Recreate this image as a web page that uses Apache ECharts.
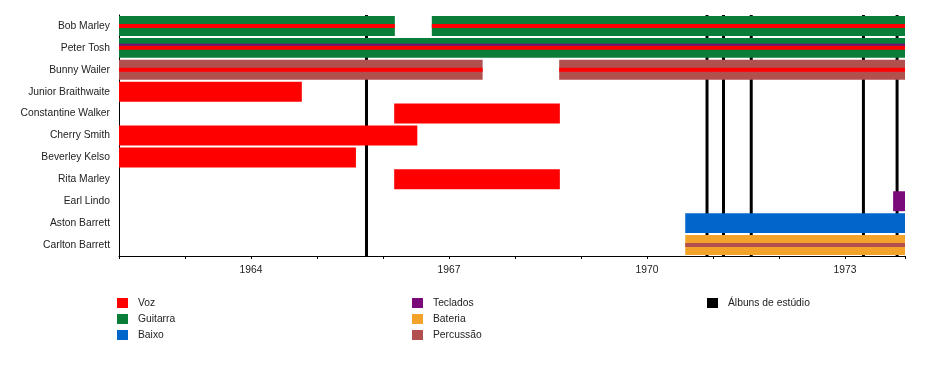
<!DOCTYPE html>
<html>
<head>
<meta charset="utf-8">
<script src="https://cdn.jsdelivr.net/npm/echarts@6/dist/echarts.min.js"></script>
<style>html,body{margin:0;padding:0;background:#fff}#c{width:929px;height:390px}</style>
</head>
<body>
<div id="c"></div>
<script>
// ---- data ----
const members = ['Bob Marley','Peter Tosh','Bunny Wailer','Junior Braithwaite','Constantine Walker','Cherry Smith','Beverley Kelso','Rita Marley','Earl Lindo','Aston Barrett','Carlton Barrett'];
const tickLabels = [1964, 1967, 1970, 1973];
const axisStart = 1962;
const axisEnd = 1973.91;
// [member, from, to] — main bars by role
const vozBars = [
  ['Junior Braithwaite', 1962, 1964.77],
  ['Constantine Walker', 1966.17, 1968.68],
  ['Cherry Smith', 1962, 1966.52],
  ['Beverley Kelso', 1962, 1965.59],
  ['Rita Marley', 1966.17, 1968.68]
];
const guitarraBars = [
  ['Bob Marley', 1962, 1966.18],
  ['Bob Marley', 1966.74, 1973.91],
  ['Peter Tosh', 1962, 1973.91]
];
const baixoBars = [['Aston Barrett', 1970.58, 1973.91]];
const tecladosBars = [['Earl Lindo', 1973.73, 1973.91]];
const bateriaBars = [['Carlton Barrett', 1970.58, 1973.91]];
const percussaoBars = [
  ['Bunny Wailer', 1962, 1967.51],
  ['Bunny Wailer', 1968.67, 1973.91]
];
// secondary roles shown as thin stripes
const vozStripes = [
  ['Bob Marley', 1962, 1966.18],
  ['Bob Marley', 1966.74, 1973.91],
  ['Peter Tosh', 1962, 1973.91],
  ['Bunny Wailer', 1962, 1967.51],
  ['Bunny Wailer', 1968.67, 1973.91]
];
const tecladosStripes = [['Peter Tosh', 1962, 1973.91]];
const percussaoStripes = [['Carlton Barrett', 1970.58, 1973.91]];
const albums = [1965.75, 1970.91, 1971.16, 1971.58, 1973.28, 1973.79];

const colors = {
  'Voz': '#ff0000', 'Guitarra': '#0a7d38', 'Baixo': '#0066cc',
  'Teclados': '#7a0a7a', 'Bateria': '#f4a32a', 'Percussão': '#b24f4f',
  'Álbuns de estúdio': '#000000'
};

function toData(arr){ return arr.map(d => [members.indexOf(d[0]), d[1], d[2]]); }

function barRender(ratio, offset){
  return function(params, api){
    const idx = api.value(0);
    const p0 = api.coord([api.value(1), idx]);
    const p1 = api.coord([api.value(2), idx]);
    const band = api.size([0, 1])[1];
    const h = ratio < 1 ? band * ratio : ratio;
    const y = p0[1] - h / 2 + (offset || 0);
    return {
      type: 'rect',
      shape: {x: p0[0], y: y, width: p1[0] - p0[0], height: h},
      style: {fill: api.visual('color')}
    };
  };
}

function barSeries(name, arr, z){
  return {
    type: 'custom', name: name, renderItem: barRender(0.91),
    itemStyle: {color: colors[name]}, encode: {x: [1, 2], y: 0},
    data: toData(arr), z: z
  };
}
function stripeSeries(name, arr, h, off, z){
  return {
    type: 'custom', name: name, renderItem: barRender(h, off),
    itemStyle: {color: colors[name]}, encode: {x: [1, 2], y: 0},
    data: toData(arr), z: z, silent: true
  };
}

const series = [
  {
    type: 'custom', name: 'Álbuns de estúdio', z: 1,
    itemStyle: {color: '#000'},
    encode: {x: 0},
    data: albums.map(a => [a]),
    renderItem: function(params, api){
      const p = api.coord([api.value(0), 0]);
      const cs = params.coordSys;
      return {type: 'line', shape: {x1: p[0], y1: cs.y, x2: p[0], y2: cs.y + cs.height},
        style: {stroke: '#000', lineWidth: 3}};
    }
  },
  barSeries('Voz', vozBars, 2),
  barSeries('Guitarra', guitarraBars, 2),
  barSeries('Baixo', baixoBars, 2),
  barSeries('Teclados', tecladosBars, 2),
  barSeries('Bateria', bateriaBars, 2),
  barSeries('Percussão', percussaoBars, 2),
  stripeSeries('Voz', vozStripes, 4, 0, 3),
  stripeSeries('Teclados', tecladosStripes, 2, -3, 3),
  stripeSeries('Percussão', percussaoStripes, 4, 0, 3)
];

const font = '"Liberation Sans", Arial, sans-serif';
const fs = 10.3;
const legendCommon = {
  orient: 'vertical', top: 298, padding: 0, itemWidth: 11, itemHeight: 10, itemGap: 6,
  icon: 'rect', selectedMode: false,
  textStyle: {fontFamily: font, fontSize: fs, color: '#222', padding: [0, 0, 0, 5]}
};

const chart = echarts.init(document.getElementById('c'), null, {renderer: 'canvas'});
chart.setOption({
  animation: false,
  backgroundColor: '#fff',
  grid: {left: 119, top: 15, width: 786, height: 241},
  xAxis: {
    type: 'value', min: axisStart, max: axisEnd, interval: 1,
    axisLine: {show: true, lineStyle: {color: '#000', width: 1}},
    axisTick: {show: true, length: 3, lineStyle: {color: '#000'}},
    splitLine: {show: false},
    axisLabel: {
      margin: 9, fontFamily: font, fontSize: fs, color: '#222',
      formatter: v => tickLabels.includes(Math.round(v * 100) / 100) ? String(Math.round(v)) : ''
    }
  },
  yAxis: {
    type: 'category', data: members, inverse: true,
    axisLine: {show: true, lineStyle: {color: '#000', width: 1}},
    axisTick: {show: false},
    splitLine: {show: false},
    axisLabel: {margin: 9, fontFamily: font, fontSize: fs, color: '#222', padding: [2, 0, 0, 0]}
  },
  legend: [
    Object.assign({left: 117, data: ['Voz', 'Guitarra', 'Baixo']}, legendCommon),
    Object.assign({left: 412, data: ['Teclados', 'Bateria', 'Percussão']}, legendCommon),
    Object.assign({left: 707, data: ['Álbuns de estúdio']}, legendCommon)
  ],
  series: series
});
</script>
</body>
</html>
